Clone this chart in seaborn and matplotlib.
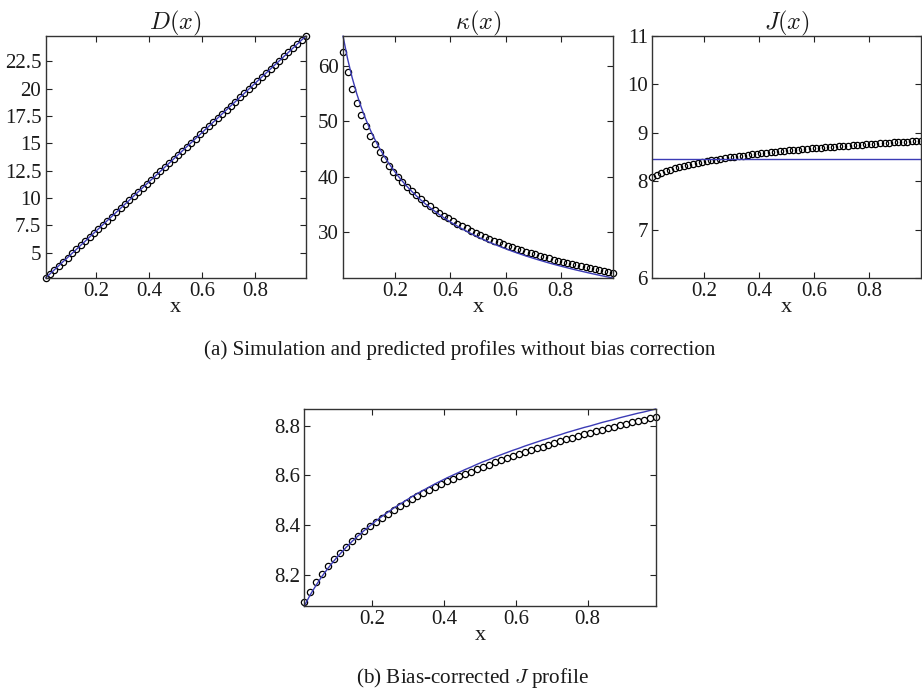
import matplotlib
matplotlib.use("Agg")
import matplotlib.pyplot as plt
from matplotlib.ticker import FuncFormatter
import seaborn as sns

# Sample positions along the domain
x = [0.0100, 0.0266, 0.0432, 0.0598, 0.0764, 0.0931, 0.1097, 0.1263, 0.1429, 0.1595,
     0.1761, 0.1927, 0.2093, 0.2259, 0.2425, 0.2592, 0.2758, 0.2924, 0.3090, 0.3256,
     0.3422, 0.3588, 0.3754, 0.3920, 0.4086, 0.4253, 0.4419, 0.4585, 0.4751, 0.4917,
     0.5083, 0.5249, 0.5415, 0.5581, 0.5747, 0.5914, 0.6080, 0.6246, 0.6412, 0.6578,
     0.6744, 0.6910, 0.7076, 0.7242, 0.7408, 0.7575, 0.7741, 0.7907, 0.8073, 0.8239,
     0.8405, 0.8571, 0.8737, 0.8903, 0.9069, 0.9236, 0.9402, 0.9568, 0.9734, 0.9900]

# Diffusion profile (simulated and predicted coincide)
D_sim = [2.69, 3.06, 3.44, 3.81, 4.19, 4.56, 4.94, 5.31, 5.69, 6.06,
         6.44, 6.81, 7.19, 7.56, 7.94, 8.31, 8.69, 9.06, 9.44, 9.81,
         10.19, 10.56, 10.94, 11.31, 11.69, 12.06, 12.44, 12.81, 13.19, 13.56,
         13.94, 14.31, 14.69, 15.06, 15.44, 15.81, 16.19, 16.56, 16.94, 17.31,
         17.69, 18.06, 18.44, 18.81, 19.19, 19.56, 19.94, 20.31, 20.69, 21.06,
         21.44, 21.81, 22.19, 22.56, 22.94, 23.31, 23.69, 24.06, 24.44, 24.81]
D_pred = list(D_sim)

# Curvature-like profile kappa
kappa_sim = [62.47, 58.86, 55.84, 53.28, 51.06, 49.11, 47.36, 45.82, 44.42, 43.15,
             41.99, 40.92, 39.94, 39.02, 38.18, 37.38, 36.64, 35.94, 35.29, 34.67,
             34.08, 33.52, 32.99, 32.49, 32.01, 31.55, 31.11, 30.69, 30.30, 29.92,
             29.54, 29.18, 28.85, 28.52, 28.21, 27.89, 27.60, 27.31, 27.04, 26.77,
             26.50, 26.26, 26.01, 25.77, 25.55, 25.32, 25.10, 24.89, 24.69, 24.49,
             24.29, 24.10, 23.92, 23.74, 23.56, 23.39, 23.21, 23.05, 22.89, 22.73]
kappa_pred = [65.34, 61.25, 57.85, 54.97, 52.48, 50.30, 48.37, 46.66, 45.11, 43.71,
              42.43, 41.26, 40.18, 39.18, 38.26, 37.39, 36.59, 35.83, 35.12, 34.45,
              33.82, 33.22, 32.65, 32.11, 31.60, 31.11, 30.64, 30.19, 29.77, 29.36,
              28.96, 28.58, 28.22, 27.87, 27.54, 27.21, 26.90, 26.59, 26.30, 26.02,
              25.74, 25.48, 25.22, 24.97, 24.73, 24.49, 24.26, 24.04, 23.83, 23.62,
              23.41, 23.21, 23.02, 22.83, 22.64, 22.46, 22.28, 22.11, 21.94, 21.78]

# Flux profile J
J_sim = [8.093, 8.134, 8.171, 8.205, 8.236, 8.264, 8.289, 8.313, 8.336, 8.357,
         8.377, 8.396, 8.414, 8.431, 8.447, 8.463, 8.477, 8.491, 8.505, 8.518,
         8.530, 8.542, 8.554, 8.565, 8.576, 8.586, 8.596, 8.606, 8.616, 8.626,
         8.635, 8.644, 8.653, 8.662, 8.670, 8.678, 8.686, 8.694, 8.702, 8.709,
         8.716, 8.723, 8.730, 8.737, 8.745, 8.751, 8.758, 8.765, 8.771, 8.777,
         8.784, 8.790, 8.796, 8.802, 8.808, 8.814, 8.820, 8.824, 8.830, 8.836]
J_pred = 8.465
J_corrected = [8.076, 8.121, 8.160, 8.196, 8.228, 8.258, 8.285, 8.311, 8.335, 8.357,
               8.378, 8.398, 8.417, 8.435, 8.452, 8.469, 8.484, 8.499, 8.514, 8.528,
               8.541, 8.554, 8.567, 8.579, 8.591, 8.602, 8.613, 8.624, 8.634, 8.645,
               8.655, 8.664, 8.674, 8.683, 8.692, 8.701, 8.709, 8.718, 8.726, 8.734,
               8.742, 8.749, 8.757, 8.764, 8.772, 8.779, 8.786, 8.793, 8.799, 8.806,
               8.813, 8.819, 8.825, 8.832, 8.838, 8.844, 8.850, 8.855, 8.861, 8.867]

x_ticks = [0.2, 0.4, 0.6, 0.8]
D_ticks = [5, 7.5, 10, 12.5, 15, 17.5, 20, 22.5]
kappa_ticks = [30, 40, 50, 60]
J_ticks = [6, 7, 8, 9, 10, 11]
Jc_ticks = [8.2, 8.4, 8.6, 8.8]

sns.set_theme(style="ticks")
plt.rcParams["font.family"] = ["Liberation Serif", "DejaVu Serif"]
plt.rcParams["mathtext.fontset"] = "cm"

LINE_COLOR = "#3b3bb5"
TEXT_COLOR = "#1a1a1a"
W, H = 922, 694
fig = plt.figure(figsize=(W / 100, H / 100), dpi=100)


def add_axes(left, top, right, bottom):
    return fig.add_axes([left / W, 1 - bottom / H, (right - left) / W, (bottom - top) / H])


def style(ax, yticks, ylim, title=None):
    ax.set_xlim(x[0], x[-1])
    ax.set_ylim(*ylim)
    ax.set_xticks(x_ticks)
    ax.set_yticks(yticks)
    ax.xaxis.set_major_formatter(FuncFormatter(lambda v, p: f"{v:g}"))
    ax.yaxis.set_major_formatter(FuncFormatter(lambda v, p: f"{v:g}"))
    ax.tick_params(direction="in", top=True, right=True, length=4, width=0.8,
                   labelsize=15, pad=3, colors="#222222", labelcolor=TEXT_COLOR)
    for s in ax.spines.values():
        s.set_linewidth(1.0)
        s.set_color("#333333")
    ax.set_xlabel("x", fontsize=16, labelpad=-2, color=TEXT_COLOR)
    ax.set_ylabel("")
    if title:
        ax.set_title(title, fontsize=17.5, pad=5, color=TEXT_COLOR)


def draw(ax, y_sim, y_line):
    sns.lineplot(x=x, y=y_sim, ax=ax, marker="o", linestyle="none", markersize=4.5,
                 markerfacecolor="none", markeredgecolor="black", markeredgewidth=0.9,
                 color="black", estimator=None, sort=False)
    if y_line is not None:
        sns.lineplot(x=x, y=y_line, ax=ax, color=LINE_COLOR, linewidth=1.0,
                     estimator=None, sort=False)


# (a) top row
ax1 = add_axes(45.5, 36, 306, 278)
draw(ax1, D_sim, D_pred)
style(ax1, D_ticks, (min(D_pred), max(D_pred)), r"$D(x)$")

ax2 = add_axes(343, 36, 613, 278)
draw(ax2, kappa_sim, kappa_pred)
style(ax2, kappa_ticks, (min(kappa_pred), max(kappa_pred)), r"$\kappa(x)$")

ax3 = add_axes(652, 36, 921, 278)
draw(ax3, J_sim, None)
ax3.axhline(J_pred, color=LINE_COLOR, linewidth=1.0)
style(ax3, J_ticks, (6, 11), r"$J(x)$")

# (b) bottom panel
ax4 = add_axes(304.3, 409, 655.7, 606)
draw(ax4, J_sim, J_corrected)
style(ax4, Jc_ticks, (min(J_corrected), max(J_corrected)))

for ax in (ax1, ax2, ax3, ax4):
    for c in ax.collections + ax.lines:
        c.set_clip_on(False)

fig.text(460 / W, 1 - 350 / H, "(a) Simulation and predicted profiles without bias correction",
         ha="center", va="center", fontsize=15.2, color=TEXT_COLOR)
fig.text(472 / W, 1 - 678 / H, r"(b) Bias-corrected $J$ profile",
         ha="center", va="center", fontsize=15.2, color=TEXT_COLOR)

fig.savefig("out.png", dpi=100, facecolor="white")
